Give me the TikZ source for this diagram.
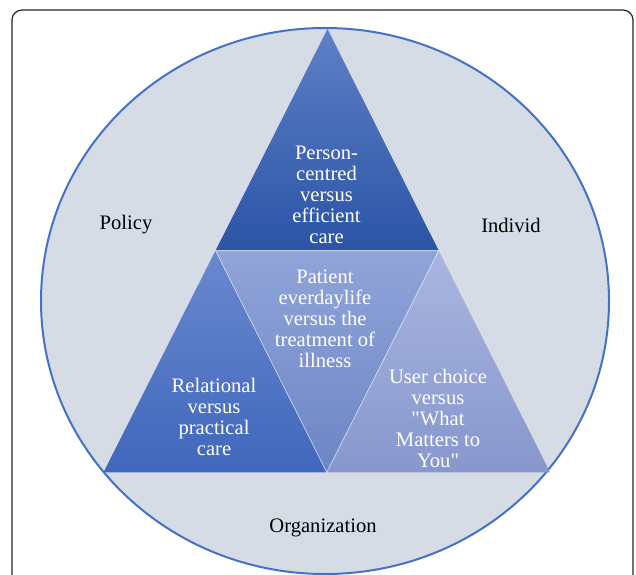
\documentclass[tikz,border=0pt]{standalone}
\usepackage{fontspec}
\setmainfont{Liberation Serif}[Ligatures=TeXOff]
\definecolor{circfill}{HTML}{D6DCE5}
\definecolor{circline}{HTML}{4472C4}
\definecolor{topA}{HTML}{5E80C6}
\definecolor{topB}{HTML}{2B54A6}
\definecolor{leftA}{HTML}{6A88CE}
\definecolor{leftB}{HTML}{3F67BC}
\definecolor{midA}{HTML}{90A4D8}
\definecolor{midB}{HTML}{6C86C5}
\definecolor{rightA}{HTML}{AAB6E0}
\definecolor{rightB}{HTML}{8797CD}
\begin{document}
\begin{tikzpicture}[x=1pt,y=1pt,
  lbl/.style={font=\fontsize{20.6}{21}\selectfont, text=black, align=center, inner sep=0pt},
  tritext/.style={font=\fontsize{20.6}{21}\selectfont, text=white, align=center, inner sep=0pt},
  sepline/.style={draw=white, line width=0.8pt, opacity=0.55}]
\clip (0,0) rectangle (636,574);
\useasboundingbox (0,0) rectangle (636,574);
\fill[white] (0,0) rectangle (636,574);
\draw[black!85, line width=1.2pt, rounded corners=10pt] (12,-60) rectangle (633,564);
\draw[fill=circfill, draw=circline, line width=2pt] (325,273) ellipse [x radius=284, y radius=273];
\coordinate (A) at (327.5,545);
\coordinate (B) at (103.5,101.7);
\coordinate (C) at (550,101.7);
\coordinate (D) at (215.5,323.4);
\coordinate (E) at (438.7,323.4);
\coordinate (F) at (326.7,101.7);
\shade[top color=topA, bottom color=topB] (A) -- (D) -- (E) -- cycle;
\shade[top color=leftA, bottom color=leftB] (D) -- (B) -- (F) -- cycle;
\shade[top color=midA, bottom color=midB] (D) -- (E) -- (F) -- cycle;
\shade[top color=rightA, bottom color=rightB] (E) -- (F) -- (C) -- cycle;
\draw[sepline] (D) -- (E) -- (F) -- cycle;
\node[tritext] (ttop) at (326.5,379) {Person-\\centred\\versus\\efficient\\care};
\node[tritext] (tmid) at (325,255) {Patient\\everdaylife\\versus the\\treatment of\\illness};
\node[tritext] (tleft) at (214,157) {Relational\\versus\\practical\\care};
\node[tritext] (tright) at (438,156) {User choice\\versus\\"What\\Matters to\\You"};
\node[lbl] (policy) at (126,349) {Policy};
\node[lbl] (indiv) at (511,349) {Individ};
\node[lbl] (org) at (323,46) {Organization};
\end{tikzpicture}
\end{document}
